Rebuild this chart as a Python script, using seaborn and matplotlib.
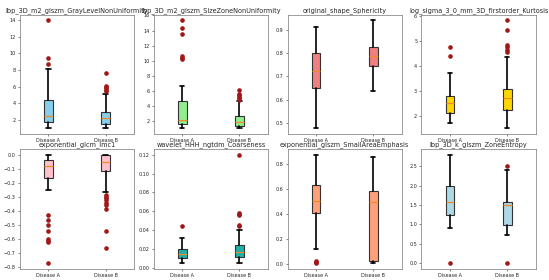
import matplotlib
matplotlib.use("Agg")
import matplotlib.pyplot as plt
import seaborn as sns

groups = ["Disease A", "Disease B"]

features = [
    "lbp_3D_m2_glszm_GrayLevelNonUniformity",
    "lbp_3D_m2_glszm_SizeZoneNonUniformity",
    "original_shape_Sphericity",
    "log_sigma_3_0_mm_3D_firstorder_Kurtosis",
    "exponential_glcm_Imc1",
    "wavelet_HHH_ngtdm_Coarseness",
    "exponential_glszm_SmallAreaEmphasis",
    "lbp_3D_k_glszm_ZoneEntropy",
]

box_colors = ["skyblue", "lightgreen", "lightcoral", "gold",
              "pink", "lightseagreen", "lightsalmon", "lightblue"]

# five-number summaries per feature: [Disease A, Disease B], each (whislo, q1, med, q3, whishi)
summaries = [
    [(1.0, 1.8, 2.5, 4.4, 8.1), (1.0, 1.5, 2.2, 3.0, 5.1)],
    [(1.0, 1.6, 2.1, 4.7, 6.6), (1.0, 1.3, 1.8, 2.7, 4.6)],
    [(0.475, 0.65, 0.725, 0.80, 0.915), (0.635, 0.745, 0.79, 0.83, 0.945)],
    [(1.7, 2.1, 2.5, 2.8, 3.72), (1.5, 2.25, 2.7, 3.1, 4.35)],
    [(-0.25, -0.165, -0.08, -0.04, 0.0), (-0.27, -0.115, -0.05, 0.0, 0.0)],
    [(0.005, 0.0105, 0.0145, 0.0195, 0.0315), (0.0055, 0.012, 0.0165, 0.0245, 0.0405)],
    [(0.12, 0.41, 0.50, 0.63, 0.875), (0.005, 0.02, 0.495, 0.585, 0.855)],
    [(0.91, 1.23, 1.58, 2.0, 2.8), (0.72, 0.99, 1.50, 1.59, 2.40)],
]

outliers = [
    [[8.7, 9.4, 14.0], [5.5, 5.6, 5.8, 6.0, 6.1, 7.6]],
    [[10.2, 10.4, 10.6, 13.5, 14.3, 15.4], [4.8, 5.0, 5.2, 5.4, 5.6, 6.1]],
    [[], []],
    [[4.4, 4.75], [4.55, 4.65, 4.75, 4.85, 5.45, 5.85]],
    [[-0.43, -0.465, -0.505, -0.545, -0.605, -0.615, -0.625, -0.775],
     [-0.29, -0.30, -0.31, -0.325, -0.345, -0.36, -0.385, -0.545, -0.67]],
    [[0.0445], [0.044, 0.045, 0.0565, 0.0575, 0.0585, 0.12]],
    [[0.005, 0.01, 0.015, 0.02], []],
    [[0.0], [0.0, 2.52]],
]

sns.set_style("ticks")
plt.rcParams["font.family"] = ["DejaVu Sans"]

fig, axes = plt.subplots(2, 4, figsize=(5.49, 2.8), dpi=100)
plt.subplots_adjust(left=0.036, right=0.976, bottom=0.041, top=0.948,
                    wspace=0.17, hspace=0.13)

for ax, name, color, summ, outs in zip(axes.flatten(), features, box_colors, summaries, outliers):
    stats = []
    for label, (lo, q1, med, q3, hi), fl in zip(groups, summ, outs):
        stats.append({"label": label, "whislo": lo, "q1": q1, "med": med,
                      "q3": q3, "whishi": hi, "fliers": fl})
    ax.bxp(stats, positions=[1, 2], widths=0.15, patch_artist=True,
           boxprops=dict(facecolor=color, edgecolor="#333333", linewidth=0.8),
           whiskerprops=dict(color="black", linewidth=1.2),
           capprops=dict(color="black", linewidth=1.2),
           medianprops=dict(color="#f08a24", linewidth=0.9),
           flierprops=dict(marker="o", markerfacecolor="#a01818",
                           markeredgecolor="#a01818", markersize=2.3))
    ax.set_title(name, fontsize=4.7, pad=2)
    ax.tick_params(axis="both", labelsize=3.5, length=1.5, width=0.4, pad=1.5)
    for sp in ax.spines.values():
        sp.set_linewidth(0.5)
        sp.set_color("#777777")

fig.savefig("out.png", dpi=100)
